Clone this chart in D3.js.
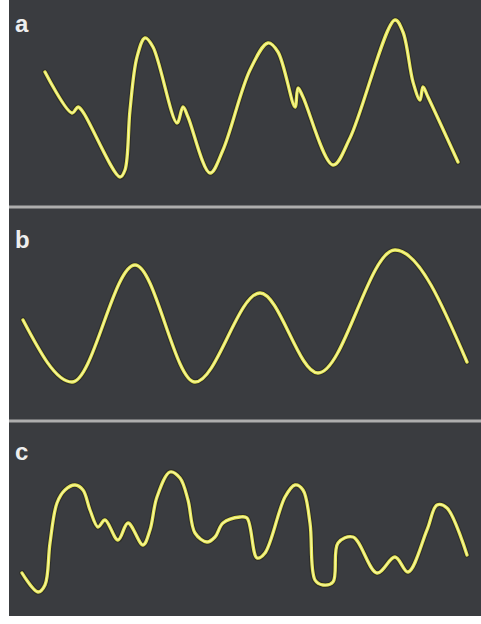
<!DOCTYPE html>
<html>
<head>
<meta charset="utf-8">
<script src="https://cdn.jsdelivr.net/npm/d3@7"></script>
<style>
  body { margin: 0; background: #fff; }
  svg { display: block; }
</style>
</head>
<body>
<svg width="481" height="624"></svg>
<script>
// traces: time in ms, amplitude in arbitrary units
var timeA = [50, 104, 116, 126, 200, 210, 220, 234, 250, 266, 314, 326, 336, 380, 406, 460, 496, 516, 550, 556, 566, 626, 660, 750, 766, 786, 800, 806, 816, 876];
var traceA = [56, -26, -14, -24, -154, -140, -20, 86, 124, 106, -46, -14, -34, -146, -100, 60, 114, 96, -14, 24, 6, -130, -76, 160, 136, 36, 0, 26, 6, -124];

var timeB = [6, 104, 230, 350, 480, 596, 750, 894];
var traceB = [-10, -134, 100, -134, 44, -116, 130, -94];

var timeC = [4, 36, 50, 60, 74, 90, 110, 126, 140, 156, 170, 196, 216, 246, 260, 274, 300, 320, 336, 350, 374, 390, 406, 440, 454, 474, 490, 530, 550, 566, 580, 590, 606, 626, 636, 666, 714, 750, 776, 814, 834, 854, 894];
var traceC = [-106, -144, -130, -46, 34, 60, 70, 60, 20, -14, 0, -40, -6, -50, -20, 46, 96, 84, 40, -26, -44, -34, -6, 6, 4, -76, -66, 46, 70, 60, -6, -120, -130, -124, -46, -34, -106, -74, -104, -20, 30, 24, -70];

var labels = ["a", "b", "c"];

var svg = d3.select("svg");

// dark panel area
svg.append("rect")
    .attr("x", 9).attr("y", 0)
    .attr("width", 472).attr("height", 616)
    .attr("fill", "#3a3c40");

var x = d3.scaleLinear().domain([0, 900]).range([20, 470]);

var panels = [
  { label: labels[0], center: 100, labelY: 32, t: timeA, v: traceA, curve: d3.curveCatmullRom.alpha(0.5) },
  { label: labels[1], center: 315, labelY: 248, t: timeB, v: traceB, curve: d3.curveMonotoneX },
  { label: labels[2], center: 520, labelY: 460, t: timeC, v: traceC, curve: d3.curveCatmullRom.alpha(0.5) }
];

// separators between the panels
svg.selectAll("line.sep")
    .data([207, 421])
    .enter().append("line")
    .attr("class", "sep")
    .attr("x1", 9).attr("x2", 481)
    .attr("y1", function(d) { return d; })
    .attr("y2", function(d) { return d; })
    .attr("stroke", "#aeaeae")
    .attr("stroke-width", 3);

panels.forEach(function(p) {
  var y = d3.scaleLinear().domain([-180, 180]).range([p.center + 90, p.center - 90]);
  var pts = p.t.map(function(t, i) { return [t, p.v[i]]; });

  var line = d3.line()
      .x(function(d) { return x(d[0]); })
      .y(function(d) { return y(d[1]); })
      .curve(p.curve);

  var g = svg.append("g");

  // soft dark halo under the trace
  g.append("path")
      .attr("d", line(pts))
      .attr("fill", "none")
      .attr("stroke", "#24241c")
      .attr("stroke-opacity", 0.6)
      .attr("stroke-width", 5.5)
      .attr("stroke-linejoin", "round")
      .attr("stroke-linecap", "round");

  g.append("path")
      .attr("d", line(pts))
      .attr("fill", "none")
      .attr("stroke", "#e8e858")
      .attr("stroke-width", 3.3)
      .attr("stroke-linejoin", "round")
      .attr("stroke-linecap", "round");

  g.append("path")
      .attr("d", line(pts))
      .attr("fill", "none")
      .attr("stroke", "#f8f8a8")
      .attr("stroke-width", 1.1)
      .attr("stroke-linejoin", "round")
      .attr("stroke-linecap", "round");

  svg.append("text")
      .attr("x", 15)
      .attr("y", p.labelY)
      .attr("fill", "#eeeeee")
      .attr("font-family", "Liberation Sans, Arial, sans-serif")
      .attr("font-weight", "bold")
      .attr("font-size", 24)
      .text(p.label);
});
</script>
</body>
</html>
